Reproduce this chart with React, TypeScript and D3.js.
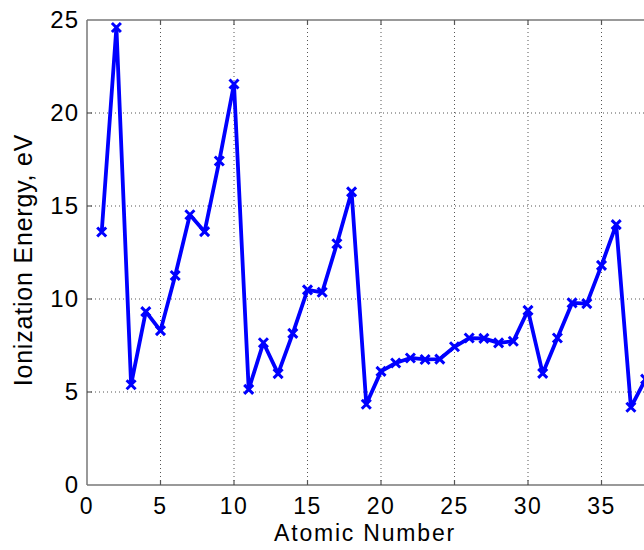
import React, { useEffect, useRef } from "react";
import * as d3 from "d3";

// 원자 번호 1..38
const atomicNumbers = d3.range(1, 39);
const ionization = [
  13.6, 24.6, 5.39, 9.32, 8.3, 11.26, 14.53, 13.62, 17.42, 21.56,
  5.14, 7.65, 5.99, 8.15, 10.49, 10.36, 12.97, 15.76, 4.34, 6.11,
  6.56, 6.83, 6.75, 6.77, 7.43, 7.9, 7.88, 7.64, 7.73, 9.39,
  6.0, 7.9, 9.79, 9.75, 11.81, 14.0, 4.18, 5.69,
];
const xTicks = [0, 5, 10, 15, 20, 25, 30, 35];
const yTicks = [0, 5, 10, 15, 20, 25];

const width = 644;
const height = 550;
const left = 87;
const top = 20;
const bottom = 485;

export default function App() {
  const svgRef = useRef<SVGSVGElement>(null);

  useEffect(() => {
    const svg = d3.select(svgRef.current);
    svg.selectAll("*").remove();

    const x = d3.scaleLinear().domain([0, 35]).range([left, 601.5]);
    const y = d3.scaleLinear().domain([0, 25]).range([bottom, top]);
    const right = width + 20; // 오른쪽은 잘려 있음

    svg.append("defs").append("clipPath").attr("id", "plotclip")
      .append("rect").attr("x", left).attr("y", top - 10)
      .attr("width", width - left).attr("height", bottom - top + 20);

    // 격자
    const grid = svg.append("g");
    grid.selectAll("line.vx").data(xTicks.slice(1)).join("line")
      .attr("x1", (d) => x(d)).attr("x2", (d) => x(d))
      .attr("y1", top).attr("y2", bottom)
      .attr("stroke", "#555").attr("stroke-width", 1)
      .attr("stroke-dasharray", "1,3");
    grid.selectAll("line.hy").data(yTicks.slice(1, -1)).join("line")
      .attr("x1", left).attr("x2", right)
      .attr("y1", (d) => y(d)).attr("y2", (d) => y(d))
      .attr("stroke", "#555").attr("stroke-width", 1)
      .attr("stroke-dasharray", "1,3");

    // 박스
    svg.append("line").attr("x1", left).attr("x2", right).attr("y1", top).attr("y2", top)
      .attr("stroke", "#777").attr("stroke-width", 1.5);
    svg.append("line").attr("x1", left).attr("x2", right).attr("y1", bottom).attr("y2", bottom)
      .attr("stroke", "#777").attr("stroke-width", 1.5);
    svg.append("line").attr("x1", left).attr("x2", left).attr("y1", top).attr("y2", bottom)
      .attr("stroke", "#777").attr("stroke-width", 1.5);

    // 눈금
    const ticks = svg.append("g").attr("stroke", "#555").attr("stroke-width", 1.2);
    xTicks.slice(1).forEach((t) => {
      ticks.append("line").attr("x1", x(t)).attr("x2", x(t)).attr("y1", bottom).attr("y2", bottom - 5);
      ticks.append("line").attr("x1", x(t)).attr("x2", x(t)).attr("y1", top).attr("y2", top + 5);
    });
    yTicks.slice(1, -1).forEach((t) => {
      ticks.append("line").attr("x1", left).attr("x2", left + 5).attr("y1", y(t)).attr("y2", y(t));
    });

    const font = "'Liberation Sans', Arial, sans-serif";
    svg.append("g").selectAll("text").data(xTicks).join("text")
      .attr("x", (d) => x(d)).attr("y", 514)
      .attr("text-anchor", "middle")
      .attr("font-family", font).attr("font-size", 23).attr("letter-spacing", 1.5)
      .text((d) => d);
    svg.append("g").selectAll("text").data(yTicks).join("text")
      .attr("x", 79).attr("y", (d) => y(d) + 8)
      .attr("text-anchor", "end")
      .attr("font-family", font).attr("font-size", 24).attr("letter-spacing", 1)
      .text((d) => d);

    svg.append("text").attr("x", 365).attr("y", 541)
      .attr("text-anchor", "middle").attr("font-family", font).attr("font-size", 23)
      .attr("letter-spacing", 1.8)
      .text("Atomic Number");
    svg.append("text")
      .attr("transform", `translate(32, 260) rotate(-90)`)
      .attr("text-anchor", "middle").attr("font-family", font).attr("font-size", 25)
      .attr("letter-spacing", 0.8)
      .text("Ionization Energy, eV");

    // 데이터 선
    const plot = svg.append("g").attr("clip-path", "url(#plotclip)");
    const line = d3.line<number>().x((_, i) => x(atomicNumbers[i])).y((d) => y(d));
    plot.append("path").datum(ionization)
      .attr("d", line).attr("fill", "none")
      .attr("stroke", "#0000ff").attr("stroke-width", 3.8)
      .attr("stroke-linejoin", "round");

    const m = 4.5;
    plot.selectAll("path.mark").data(ionization).join("path")
      .attr("d", (d, i) => {
        const cx = x(atomicNumbers[i]);
        const cy = y(d);
        return `M${cx - m},${cy - m}L${cx + m},${cy + m}M${cx - m},${cy + m}L${cx + m},${cy - m}`;
      })
      .attr("stroke", "#0000ff").attr("stroke-width", 3).attr("fill", "none");
  }, []);

  return (
    <div>
      <svg ref={svgRef} width={width} height={height}
        style={{ position: "absolute", left: 0, top: 0, background: "#fff" }}></svg>
    </div>
  );
}
